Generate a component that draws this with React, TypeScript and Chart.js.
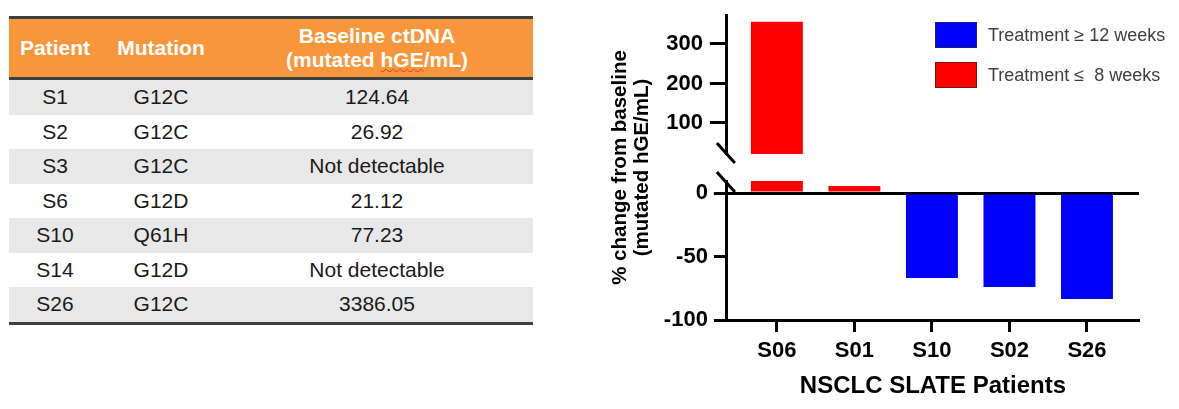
import React, { useEffect, useRef } from 'react';
import { Chart, registerables } from 'chart.js';

Chart.register(...registerables);

const FONT = 'Arial, "Liberation Sans", Helvetica, sans-serif';

// ---- chart data ----
const patients = ['S06', 'S01', 'S10', 'S02', 'S26'];
const changeFromBaseline = [356, 5.5, -67, -74, -83.5];
const treatmentGroup = [1, 1, 0, 0, 0];
const groupLabels = ['Treatment ≥ 12 weeks', 'Treatment ≤  8 weeks'];
const groupColors = ['#0000FF', '#FF0000'];
const groupBorderColors = ['#1c1c7a', '#7a1010'];
const upperTicks = [100, 200, 300];
const lowerTicks = [-100, -50, 0];
const upperRange = [21.5, 373.4];
const lowerRange = [-100, 9.45];
const yTitle = ['% change from baseline', '(mutated hGE/mL)'];
const xTitle = 'NSCLC SLATE Patients';

// ---- table data ----
const tableHeaders = ['Patient', 'Mutation'];
const tableHeaderBaseline = ['Baseline ctDNA', '(mutated ', 'hGE', '/mL)'];
const tablePatients = ['S1', 'S2', 'S3', 'S6', 'S10', 'S14', 'S26'];
const tableMutations = ['G12C', 'G12C', 'G12C', 'G12D', 'Q61H', 'G12D', 'G12C'];
const tableBaseline = ['124.64', '26.92', 'Not detectable', '21.12', '77.23', 'Not detectable', '3386.05'];

const colWidths = [92, 120, 312];

const segmentClip = {
  id: 'segmentClip',
  beforeDatasetDraw(chart: any, args: any) {
    const ys = chart.scales[args.meta.yAxisID];
    const ca = chart.chartArea;
    const ctx = chart.ctx;
    ctx.save();
    ctx.beginPath();
    ctx.rect(ca.left, ys.top, ca.right - ca.left, ys.bottom - ys.top);
    ctx.clip();
  },
  afterDatasetDraw(chart: any) {
    chart.ctx.restore();
  },
};

const breakMarks = {
  id: 'breakMarks',
  afterDraw(chart: any) {
    const ctx = chart.ctx;
    const top = chart.scales.yTop;
    const bot = chart.scales.yBottom;
    const x = top.right - 1;
    ctx.save();
    ctx.strokeStyle = '#000';
    ctx.lineWidth = 3;
    [top.bottom - 1, bot.top + 1].forEach((y: number) => {
      ctx.beginPath();
      ctx.moveTo(x - 9, y - 10);
      ctx.lineTo(x + 9, y + 10);
      ctx.stroke();
    });
    ctx.restore();
  },
};

function BrokenAxisChart() {
  const ref = useRef<HTMLCanvasElement | null>(null);
  useEffect(() => {
    if (!ref.current) return;
    const tickFont = { family: FONT, size: 22, weight: 'bold' as const };
    const datasets = ['yTop', 'yBottom'].flatMap((axis) =>
      groupLabels.map((label, g) => ({
        label,
        yAxisID: axis,
        xAxisID: 'x',
        data: patients
          .map((_, i) => ({ x: i, y: changeFromBaseline[i] }))
          .filter((_, i) => treatmentGroup[i] === g),
        backgroundColor: groupColors[g],
        borderWidth: 0,
        grouped: false,
        barPercentage: 0.67,
        categoryPercentage: 1,
      }))
    );
    const chart = new Chart(ref.current, {
      type: 'bar',
      data: { datasets },
      plugins: [segmentClip, breakMarks],
      options: {
        responsive: false,
        animation: false,
        devicePixelRatio: 1,
        layout: { padding: { top: 15, right: 40, bottom: 4, left: 0 } },
        plugins: {
          legend: { display: false },
          tooltip: { enabled: false },
          title: {
            display: true,
            position: 'left',
            fullSize: false,
            text: yTitle,
            color: '#000',
            font: { family: FONT, size: 20.5, weight: 'bold', lineHeight: 1.07 },
            padding: { top: 9, bottom: 0 },
          },
        },
        scales: {
          x: {
            type: 'linear',
            offset: false,
            min: -0.645,
            max: 4.671,
            afterBuildTicks: (s: any) => {
              s.ticks = patients.map((_, i) => ({ value: i }));
            },
            ticks: {
              autoSkip: false,
              maxRotation: 0,
              padding: 6,
              color: '#000',
              font: tickFont,
              callback: (_v: any, i: number) => patients[i],
            },
            grid: {
              offset: false,
              drawOnChartArea: false,
              drawTicks: true,
              tickLength: 12,
              tickWidth: 3,
              tickColor: '#000',
            },
            border: { display: true, color: '#000', width: 3 },
            title: {
              display: true,
              text: xTitle,
              color: '#000',
              font: { family: FONT, size: 24, weight: 'bold', lineHeight: 1.2 },
              padding: { top: 0, bottom: 4 },
            },
            afterFit: (s: any) => {
              s.height = 85;
            },
          },
          yTop: {
            type: 'linear',
            position: 'left',
            stack: 'broken',
            stackWeight: 139,
            weight: 3,
            beginAtZero: false,
            min: upperRange[0],
            max: upperRange[1],
            afterBuildTicks: (s: any) => {
              s.ticks = upperTicks.map((v) => ({ value: v }));
            },
            ticks: { color: '#000', font: tickFont, padding: 7 },
            grid: {
              drawOnChartArea: false,
              drawTicks: true,
              tickLength: 17,
              tickWidth: 3,
              tickColor: '#000',
            },
            border: { display: true, color: '#000', width: 3 },
            afterFit: (s: any) => {
              s.width = 74;
              s.paddingTop = 0;
              s.paddingBottom = 0;
            },
          },
          yGap: {
            type: 'linear',
            position: 'left',
            stack: 'broken',
            stackWeight: 27,
            weight: 2,
            min: 0,
            max: 1,
            ticks: { display: false },
            grid: { display: false },
            border: { display: false },
            afterFit: (s: any) => {
              s.width = 74;
              s.paddingTop = 0;
              s.paddingBottom = 0;
            },
          },
          yBottom: {
            type: 'linear',
            position: 'left',
            stack: 'broken',
            stackWeight: 139,
            weight: 1,
            min: lowerRange[0],
            max: lowerRange[1],
            afterBuildTicks: (s: any) => {
              s.ticks = lowerTicks.map((v) => ({ value: v }));
            },
            ticks: { color: '#000', font: tickFont, padding: 6 },
            grid: {
              drawOnChartArea: true,
              color: (c: any) => (c.tick && c.tick.value === 0 ? '#000' : 'rgba(0,0,0,0)'),
              lineWidth: 3,
              drawTicks: true,
              tickLength: 13,
              tickWidth: 3,
              tickColor: '#000',
            },
            border: { display: true, color: '#000', width: 3 },
            afterFit: (s: any) => {
              s.width = 74;
              s.paddingTop = 0;
              s.paddingBottom = 0;
            },
          },
        },
      } as any,
    });
    return () => chart.destroy();
  }, []);
  return (
    <canvas
      ref={ref}
      width={579}
      height={409}
      style={{ position: 'absolute', left: 600, top: 0, width: 579, height: 409 }}
    />
  );
}

function Legend() {
  return (
    <>
      {groupLabels.map((label, g) => (
        <div
          key={label}
          style={{
            position: 'absolute',
            left: 935,
            top: 22 + g * 40,
            height: 26,
            display: 'flex',
            alignItems: 'center',
          }}
        >
          <div
            style={{
              width: 42,
              height: 26,
              boxSizing: 'border-box',
              background: groupColors[g],
              border: `1px solid ${groupBorderColors[g]}`,
            }}
          />
          <span
            style={{
              marginLeft: 11,
              fontSize: 18,
              color: '#404040',
              whiteSpace: 'pre',
              fontFamily: FONT,
            }}
          >
            {label}
          </span>
        </div>
      ))}
    </>
  );
}

function DataTable() {
  const line = { height: 3, background: '#3f3f3f' };
  const cell = (w: number) => ({
    width: w,
    display: 'flex',
    alignItems: 'center',
    justifyContent: 'center',
    textAlign: 'center' as const,
  });
  return (
    <div style={{ position: 'absolute', left: 9, top: 16, width: 524, fontFamily: FONT }}>
      <div style={line} />
      <div
        style={{
          height: 58,
          background: '#F7963A',
          display: 'flex',
          color: '#fff',
          fontWeight: 'bold',
          fontSize: 21,
          lineHeight: '24px',
        }}
      >
        <div style={cell(colWidths[0])}>{tableHeaders[0]}</div>
        <div style={cell(colWidths[1])}>{tableHeaders[1]}</div>
        <div style={{ ...cell(colWidths[2]), flexDirection: 'column' }}>
          <div>{tableHeaderBaseline[0]}</div>
          <div style={{ whiteSpace: 'pre' }}>
            {tableHeaderBaseline[1]}
            <span
              style={{
                textDecorationLine: 'underline',
                textDecorationStyle: 'wavy',
                textDecorationColor: '#e03030',
                textDecorationThickness: '1px',
              }}
            >
              {tableHeaderBaseline[2]}
            </span>
            {tableHeaderBaseline[3]}
          </div>
        </div>
      </div>
      <div style={line} />
      {tablePatients.map((p, i) => (
        <div
          key={p}
          style={{
            height: 34.5,
            display: 'flex',
            background: i % 2 === 0 ? '#E8E8E8' : '#FFFFFF',
            fontSize: 21,
            color: '#1a1a1a',
          }}
        >
          <div style={cell(colWidths[0])}>{p}</div>
          <div style={cell(colWidths[1])}>{tableMutations[i]}</div>
          <div style={cell(colWidths[2])}>{tableBaseline[i]}</div>
        </div>
      ))}
      <div style={line} />
    </div>
  );
}

export default function App() {
  return (
    <div
      style={{
        position: 'fixed',
        left: 0,
        top: 0,
        width: 1179,
        height: 409,
        background: '#fff',
        overflow: 'hidden',
      }}
    >
      <DataTable />
      <BrokenAxisChart />
      <Legend />
    </div>
  );
}
